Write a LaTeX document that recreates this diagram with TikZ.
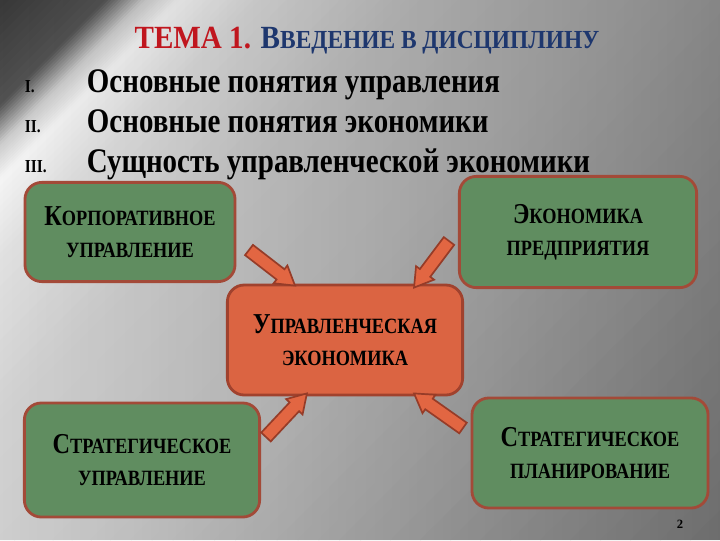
\documentclass[tikz,border=0pt]{standalone}
\usepackage{fontspec}
\setmainfont{Liberation Serif}
\newfontfamily\narrowserif[FakeStretch=0.84]{Liberation Serif}
\newfontfamily\headserif[FakeStretch=0.9]{Liberation Serif}
\usetikzlibrary{calc,fadings}

\definecolor{boxgreen}{RGB}{96,141,96}
\definecolor{boxrim}{RGB}{163,74,56}
\definecolor{coreorange}{RGB}{219,100,66}
\definecolor{corerim}{RGB}{160,66,46}
\definecolor{arrowfill}{RGB}{226,102,66}
\definecolor{arrowrim}{RGB}{150,60,40}
\definecolor{titlered}{RGB}{192,22,30}
\definecolor{titleblue}{RGB}{30,55,110}

% fake small caps: big first letter, smaller capitals after it
\newcommand\fakesc[2]{{\fontsize{20.5}{23}\selectfont #1}{\fontsize{15.5}{23}\selectfont #2}}

\tikzset{
	topic/.style={draw=boxrim, fill=boxgreen, line width=2pt, rounded corners=12pt,
		align=center, font=\narrowserif\bfseries\fontsize{15.5}{23}\selectfont},
	hub/.style={topic, draw=corerim, fill=coreorange},
	item/.style={anchor=base west, font=\narrowserif\bfseries\fontsize{24.5}{26}\selectfont},
	numeral/.style={anchor=base west, font=\narrowserif\bfseries\fontsize{13}{14}\selectfont},
	blockarrow/.style={draw=arrowrim, fill=arrowfill, line width=1.2pt, line join=miter,
		to path={let \p1=($(\tikztotarget)-(\tikztostart)$), \n1={atan2(\y1,\x1)}, \n2={veclen(\x1,\y1)} in
			($(\tikztostart)+(\n1+90:4.6pt)$)
			-- ($(\tikztostart)+(\n1:{\n2-13pt})+(\n1+90:4.6pt)$)
			-- ($(\tikztostart)+(\n1:{\n2-13pt})+(\n1+90:8pt)$)
			-- (\tikztotarget)
			-- ($(\tikztostart)+(\n1:{\n2-13pt})+(\n1-90:8pt)$)
			-- ($(\tikztostart)+(\n1:{\n2-13pt})+(\n1-90:4.6pt)$)
			-- ($(\tikztostart)+(\n1-90:4.6pt)$) -- cycle}}
}

\begin{document}
\begin{tikzpicture}[x=0.025cm, y=-0.025cm]
	\useasboundingbox (0,0) rectangle (720,540);
	
	% background: diagonal grey bands
	\begin{scope}
		\clip (0,0) rectangle (720,540);
		\foreach \sa/\ga/\sb/\gb in {0/0.22/105/0.32, 105/0.32/145/0.80, 145/0.80/180/0.96, 180/0.96/260/0.88,
			260/0.88/420/0.82, 420/0.82/650/0.80, 650/0.80/900/0.74, 900/0.74/1260/0.64} {
			\foreach \k in {0,...,11} {
				\pgfmathsetmacro\sv{\sa+(\sb-\sa)*\k/12}
				\pgfmathsetmacro\wv{(\sb-\sa)/12+1}
				\pgfmathsetmacro\gv{\ga+(\gb-\ga)*(\k+0.5)/12}
				\definecolor{bgtone}{gray}{\gv}
				\fill[bgtone] (\sv,0) -- (\sv+\wv,0) -- (\sv+\wv-540,540) -- (\sv-540,540) -- cycle;
			}
		}
		\fill[black, opacity=0.33, path fading=west] (0,0) rectangle (720,540);
	\end{scope}
	
	% heading and list
	\node (title) at (367,41) {\headserif\bfseries\fontsize{23}{24}\selectfont
		\color{titlered}ТЕМА 1. \color{titleblue}В{\fontsize{18.5}{24}\selectfont ВЕДЕНИЕ В ДИСЦИПЛИНУ}};
	\foreach \r/\t [count=\i] in {I./Основные понятия управления, II./Основные понятия экономики, III./Сущность управленческой экономики} {
		\node[numeral] (num\i) at (20,52+40*\i) {\r};
		\node[item] (item\i) at (82,52+40*\i) {\t};
	}
	
	% boxes
	\node[topic, minimum width=5.25cm, minimum height=2.48cm] (korp) at (130,232) {\fakesc{К}{ОРПОРАТИВНОЕ}\\УПРАВЛЕНИЕ};
	\node[topic, minimum width=5.93cm, minimum height=2.78cm] (econ) at (578,232) {\fakesc{Э}{КОНОМИКА}\\ПРЕДПРИЯТИЯ};
	\node[hub, minimum width=5.88cm, minimum height=2.75cm] (upr) at (345,340) {\fakesc{У}{ПРАВЛЕНЧЕСКАЯ}\\ЭКОНОМИКА};
	\node[topic, minimum width=5.88cm, minimum height=2.85cm] (stratu) at (142,460) {\fakesc{С}{ТРАТЕГИЧЕСКОЕ}\\УПРАВЛЕНИЕ};
	\node[topic, minimum width=5.9cm, minimum height=2.75cm] (stratp) at (590,453) {\fakesc{С}{ТРАТЕГИЧЕСКОЕ}\\ПЛАНИРОВАНИЕ};
	
	% arrows into the hub
	\coordinate (t1) at (249,250);
	\coordinate (t2) at (449,241);
	\coordinate (t3) at (266,437);
	\coordinate (t4) at (463,428);
	\draw[blockarrow] (t1) to ($(upr.north west)!0.29!(upr.north east)+(0,2)$);
	\draw[blockarrow] (t2) to ($(upr.north west)!0.79!(upr.north east)+(0,4)$);
	\draw[blockarrow] (t3) to ($(upr.south west)!0.34!(upr.south east)+(0,-3)$);
	\draw[blockarrow] (t4) to ($(upr.south west)!0.79!(upr.south east)+(0,-3)$);
	
	\node (pgnum) at (680,524) {\bfseries\fontsize{9}{10}\selectfont 2};
\end{tikzpicture}
\end{document}
